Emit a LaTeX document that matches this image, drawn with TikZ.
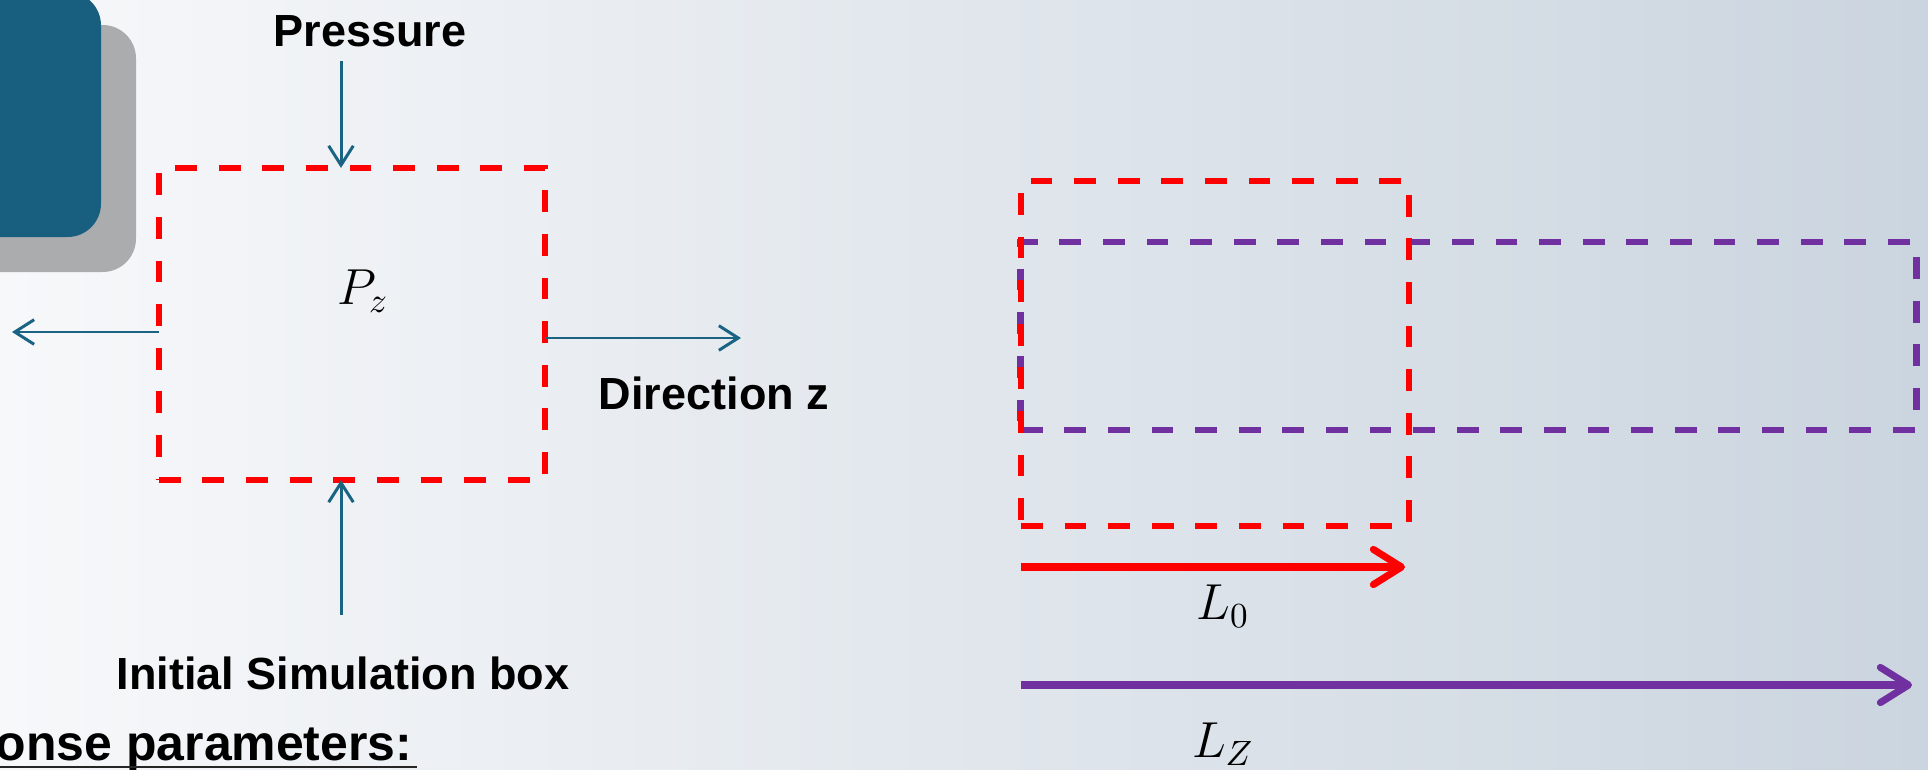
\documentclass[tikz,border=0pt]{standalone}
\usepackage{fontspec}
\setmainfont{Liberation Sans}
\usetikzlibrary{arrows.meta}
\definecolor{teal1}{HTML}{185F7F}
\definecolor{arr}{HTML}{1B6383}
\definecolor{gray1}{HTML}{ABACAE}
\definecolor{purp}{HTML}{7030A0}
\definecolor{bgl}{HTML}{F7F8FA}
\definecolor{bgr}{HTML}{CBD5DF}
\begin{document}
\begin{tikzpicture}[x=0.01cm,y=-0.01cm,
  lbl/.style={font=\fontsize{12.8}{15}\selectfont\bfseries, text=black, inner sep=0pt},
  mathlbl/.style={font=\fontsize{14}{16}\selectfont, inner sep=0pt},
  tealarrow/.style={draw=arr, line width=0.85pt, -{Straight Barb[length=5.5pt,width=7pt]}},
  redbox/.style={draw=red, line width=1.9pt, dash pattern=on 6.2pt off 6.2pt, inner sep=0pt, outer sep=0pt},
  purpbox/.style={draw=purp, line width=1.9pt, dash pattern=on 6.2pt off 6.2pt, inner sep=0pt, outer sep=0pt},
  lenarrow/.style={line width=2pt, -{Straight Barb[length=8pt,width=10pt,round]}}
]
\useasboundingbox (0,0) rectangle (1928,770);
\clip (0,0) rectangle (1928,770);
\shade[left color=bgl, right color=bgr] (0,0) rectangle (1928,770);

% decorative rounded rectangles at top left
\fill[gray1, rounded corners=9.5pt] (-60,25) rectangle (136,272);
\fill[teal1, rounded corners=9.5pt] (-60,-8) rectangle (101,237);

% left: initial simulation box
\node[redbox, minimum width=3.86cm, minimum height=3.12cm] (box1) at (352,324) {};
\node[mathlbl] (pz) at (363,291) {$P_z$};
\node[lbl] (pressure) at (370,31) {Pressure};
\node[lbl] (dirz) at (714,393) {Direction z};
\node[lbl] (init) at (343,673) {Initial Simulation box};
\node[font=\fontsize{14.2}{17}\selectfont\bfseries, inner sep=0pt, anchor=base east] (resp) at (413,760) {Response parameters:};
\draw[line width=0.45pt, black!85] ([yshift=-2pt]resp.base west) -- ([xshift=1pt,yshift=-2pt]resp.base east);

\coordinate (pTop) at (341,61);
\coordinate (pBot) at (341,615);
\coordinate (lEnd) at (12,332);
\coordinate (rEnd) at (741,338);
\draw[tealarrow] (pTop) -- (pTop |- box1.north);
\draw[tealarrow] (pBot) -- (pBot |- box1.south);
\draw[tealarrow] (box1.west |- lEnd) -- (lEnd);
\draw[tealarrow] (box1.east |- rEnd) -- (rEnd);

% right: stretched box
\node[purpbox, minimum width=8.95cm, minimum height=1.88cm] (box3) at (1468.5,336) {};
\node[redbox, minimum width=3.88cm, minimum height=3.45cm] (box2) at (1215,353.5) {};

\coordinate (L0end) at (1405,567);
\coordinate (LZend) at (1912,685);
\draw[lenarrow, red] (box2.west |- L0end) -- (L0end);
\draw[lenarrow, purp] (box2.west |- LZend) -- (LZend);
\node[mathlbl] (l0) at (1223,606) {$L_0$};
\node[mathlbl] (lz) at (1223,744) {$L_Z$};
\end{tikzpicture}
\end{document}
